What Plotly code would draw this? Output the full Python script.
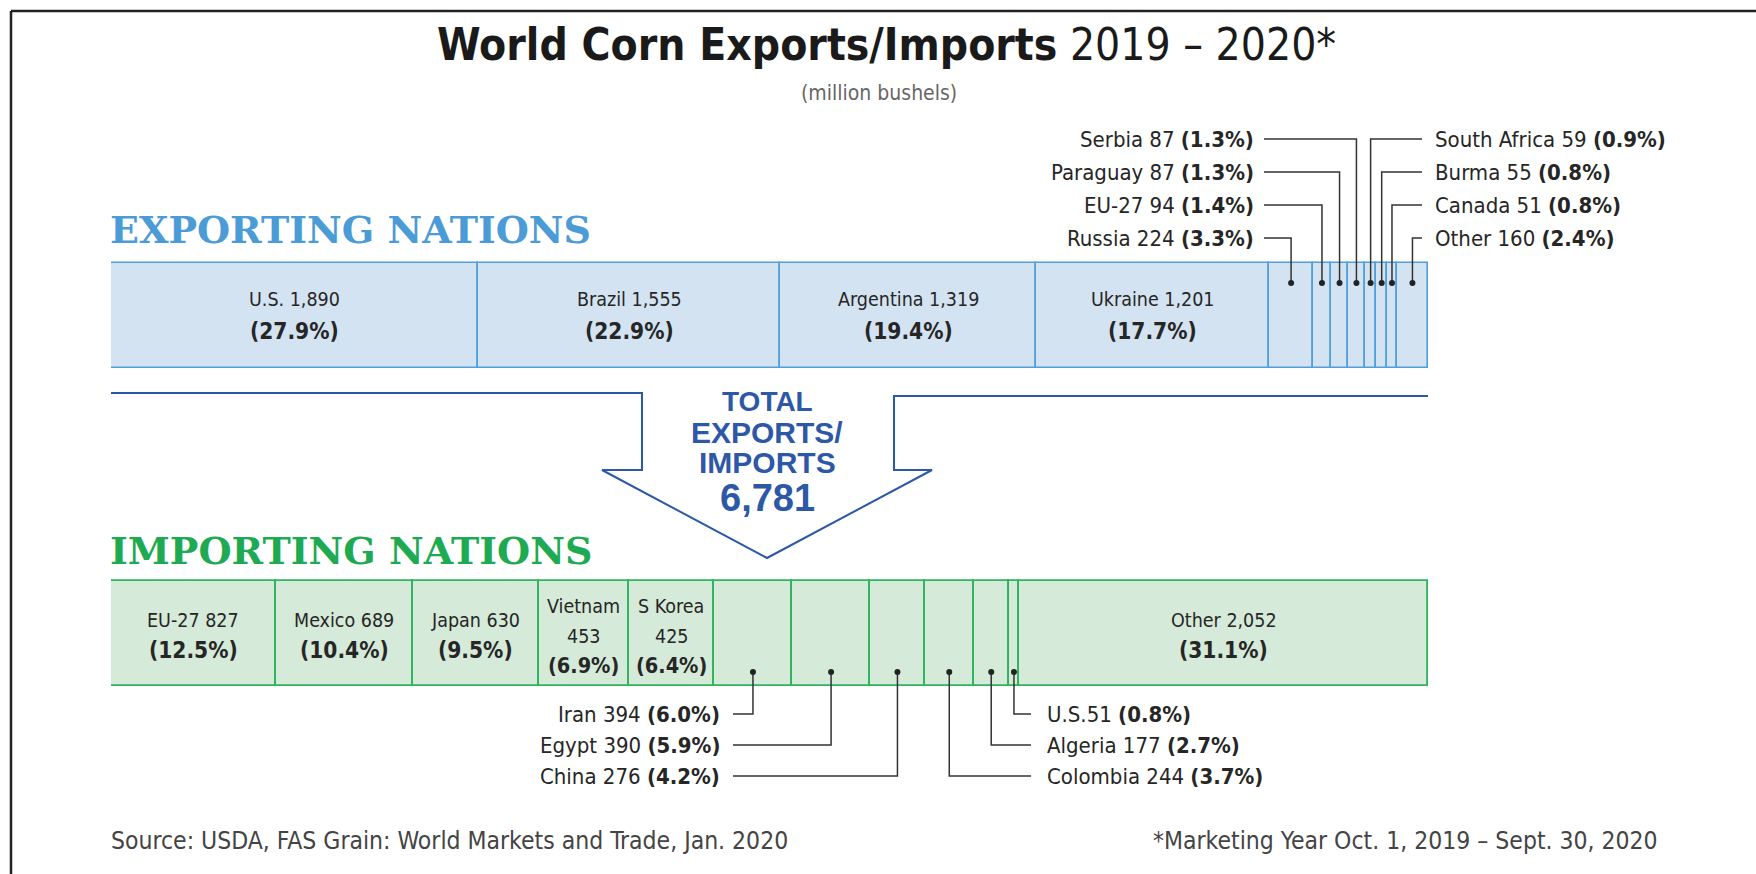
import plotly.graph_objects as go

# ---------------- data ----------------
exp_names = ["U.S.", "Brazil", "Argentina", "Ukraine", "Russia", "EU-27", "Paraguay",
             "Serbia", "South Africa", "Burma", "Canada", "Other"]
exp_vals = [1890, 1555, 1319, 1201, 224, 94, 87, 87, 59, 55, 51, 160]
exp_pct = ["27.9%", "22.9%", "19.4%", "17.7%", "3.3%", "1.4%", "1.3%", "1.3%",
           "0.9%", "0.8%", "0.8%", "2.4%"]

imp_names = ["EU-27", "Mexico", "Japan", "Vietnam", "S Korea", "Iran", "Egypt", "China",
             "Colombia", "Algeria", "U.S.", "Other"]
imp_vals = [827, 689, 630, 453, 425, 394, 390, 276, 244, 177, 51, 2052]
imp_pct = ["12.5%", "10.4%", "9.5%", "6.9%", "6.4%", "6.0%", "5.9%", "4.2%",
           "3.7%", "2.7%", "0.8%", "31.1%"]

exp_inside = ["U.S.", "Brazil", "Argentina", "Ukraine"]
exp_left_leaders = ["Serbia", "Paraguay", "EU-27", "Russia"]
exp_right_leaders = ["South Africa", "Burma", "Canada", "Other"]

imp_inside = ["EU-27", "Mexico", "Japan", "Vietnam", "S Korea", "Other"]
imp_stacked_labels = ["Vietnam", "S Korea"]
imp_left_leaders = ["Iran", "Egypt", "China"]
imp_right_leaders = ["U.S.", "Algeria", "Colombia"]

total_trade = "6,781"

# ---------------- layout constants (pixels) ----------------
W, H = 1756, 874
X0, X1 = 111, 1428
EXP_Y, IMP_Y, BAR_H = 315.5, 633.5, 105

NARROW = "DejaVu Sans Condensed, Liberation Sans Narrow, sans-serif"
WIDE = "Liberation Sans, Arial, sans-serif"
SLAB = "DejaVu Serif, serif"
TXT = "#262626"
BLUE_H = "#4b9bd6"
GREEN_H = "#1daa52"
NAVY = "#2d58a6"

exp_total = sum(exp_vals)
imp_total = sum(imp_vals)


def starts(vals):
    s, out = 0, []
    for v in vals:
        out.append(s)
        s += v
    return out


exp_base = starts(exp_vals)
imp_base = starts(imp_vals)


def fmt(v):
    return f"{v:,}"


def px2data(px, total):
    return (px - X0) / (X1 - X0) * total


fig = go.Figure()

# bars
fig.add_trace(go.Bar(
    x=exp_vals, base=exp_base, y=[EXP_Y] * len(exp_vals), width=BAR_H,
    orientation="h", xaxis="x", yaxis="y",
    marker=dict(color="#d4e3f2", line=dict(color="#4e9fda", width=1.6)),
    hoverinfo="skip"))
fig.add_trace(go.Bar(
    x=imp_vals, base=imp_base, y=[IMP_Y] * len(imp_vals), width=BAR_H,
    orientation="h", xaxis="x2", yaxis="y",
    marker=dict(color="#d5ead8", line=dict(color="#2fb45c", width=1.8)),
    hoverinfo="skip"))

ann = []
NAME_SZ, PCT_SZ = 19.5, 22.5

# inside labels exports
for n, v, p, b in zip(exp_names, exp_vals, exp_pct, exp_base):
    if n in exp_inside:
        cx = b + v / 2
        ann.append(dict(x=cx, y=299, xref="x", yref="y", text=f"{n} {fmt(v)}",
                        showarrow=False, font=dict(family=NARROW, size=NAME_SZ, color=TXT)))
        ann.append(dict(x=cx, y=331, xref="x", yref="y", text=f"<b>({p})</b>",
                        showarrow=False, font=dict(family=NARROW, size=PCT_SZ, color=TXT)))

# inside labels imports
for n, v, p, b in zip(imp_names, imp_vals, imp_pct, imp_base):
    if n in imp_inside:
        cx = b + v / 2
        if n in imp_stacked_labels:
            ann.append(dict(x=cx, y=606, xref="x2", yref="y", text=n,
                            showarrow=False, font=dict(family=NARROW, size=NAME_SZ, color=TXT)))
            ann.append(dict(x=cx, y=636, xref="x2", yref="y", text=fmt(v),
                            showarrow=False, font=dict(family=NARROW, size=NAME_SZ, color=TXT)))
            ann.append(dict(x=cx, y=665, xref="x2", yref="y", text=f"<b>({p})</b>",
                            showarrow=False, font=dict(family=NARROW, size=PCT_SZ - 1, color=TXT)))
        else:
            ann.append(dict(x=cx, y=620, xref="x2", yref="y", text=f"{n} {fmt(v)}",
                            showarrow=False, font=dict(family=NARROW, size=NAME_SZ, color=TXT)))
            ann.append(dict(x=cx, y=650, xref="x2", yref="y", text=f"<b>({p})</b>",
                            showarrow=False, font=dict(family=NARROW, size=PCT_SZ, color=TXT)))


def leader(names, vals, pcts, bases, total, axis, which, rows, dot_y, line_px, text_px, side):
    lx, ly, dx, dy = [], [], [], []
    for i, name in enumerate(which):
        k = names.index(name)
        cx = bases[k] + vals[k] / 2
        ry = rows[i]
        lx += [px2data(line_px, total), cx, cx, None]
        ly += [ry, ry, dot_y, None]
        dx.append(cx)
        dy.append(dot_y)
        sep = "" if (axis == "x2" and name == "U.S.") else " "
        ann.append(dict(x=text_px / W, y=ry, xref="paper", yref="y",
                        text=f"{name}{sep}{fmt(vals[k])} <b>({pcts[k]})</b>",
                        xanchor="right" if side == "left" else "left",
                        showarrow=False, font=dict(family=NARROW, size=22, color=TXT)))
    fig.add_trace(go.Scatter(x=lx, y=ly, xaxis=axis, yaxis="y", mode="lines",
                             line=dict(color="#333333", width=1.5), hoverinfo="skip"))
    fig.add_trace(go.Scatter(x=dx, y=dy, xaxis=axis, yaxis="y", mode="markers",
                             marker=dict(color="#222222", size=6), hoverinfo="skip"))


exp_rows = [139, 172, 205, 238]
imp_rows = [714, 745, 776]
leader(exp_names, exp_vals, exp_pct, exp_base, exp_total, "x", exp_left_leaders,
       exp_rows, 283, 1264, 1256, "left")
leader(exp_names, exp_vals, exp_pct, exp_base, exp_total, "x", exp_right_leaders,
       exp_rows, 283, 1422, 1433, "right")
leader(imp_names, imp_vals, imp_pct, imp_base, imp_total, "x2", imp_left_leaders,
       imp_rows, 672, 733, 722, "left")
leader(imp_names, imp_vals, imp_pct, imp_base, imp_total, "x2", imp_right_leaders,
       imp_rows, 672, 1031, 1045, "right")

# titles and text
ann += [
    dict(x=887 / W, y=44, xref="paper", yref="y", showarrow=False,
         text="<b>World Corn Exports/Imports</b> 2019 – 2020*",
         font=dict(family=NARROW, size=44, color="#1a1a1a")),
    dict(x=879 / W, y=93, xref="paper", yref="y", showarrow=False,
         text="(million bushels)", font=dict(family=NARROW, size=21, color="#666666")),
    dict(x=108 / W, y=229, xref="paper", yref="y", showarrow=False, xanchor="left",
         text="<b>EXPORTING NATIONS</b>", font=dict(family=SLAB, size=38, color=BLUE_H)),
    dict(x=108 / W, y=550, xref="paper", yref="y", showarrow=False, xanchor="left",
         text="<b>IMPORTING NATIONS</b>", font=dict(family=SLAB, size=38, color=GREEN_H)),
    dict(x=767 / W, y=401, xref="paper", yref="y", showarrow=False,
         text="<b>TOTAL</b>", font=dict(family=WIDE, size=28, color=NAVY)),
    dict(x=767 / W, y=432, xref="paper", yref="y", showarrow=False,
         text="<b>EXPORTS/</b>", font=dict(family=WIDE, size=30, color=NAVY)),
    dict(x=767 / W, y=462, xref="paper", yref="y", showarrow=False,
         text="<b>IMPORTS</b>", font=dict(family=WIDE, size=30, color=NAVY)),
    dict(x=767 / W, y=498, xref="paper", yref="y", showarrow=False,
         text=f"<b>{total_trade}</b>", font=dict(family=WIDE, size=38, color=NAVY)),
    dict(x=109 / W, y=840, xref="paper", yref="y", showarrow=False, xanchor="left",
         text="Source: USDA, FAS Grain: World Markets and Trade, Jan. 2020",
         font=dict(family=NARROW, size=24.5, color="#444444")),
    dict(x=1660 / W, y=840, xref="paper", yref="y", showarrow=False, xanchor="right",
         text="*Marketing Year Oct. 1, 2019 – Sept. 30, 2020",
         font=dict(family=NARROW, size=24.5, color="#444444")),
]


def P(x):
    return x / W


arrow_path = (f"M {P(111)},393 L {P(642)},393 L {P(642)},470 L {P(602)},470 "
              f"L {P(767)},558 L {P(932)},470 L {P(894)},470 L {P(894)},396 L {P(1428)},396")
shapes = [
    dict(type="path", path=arrow_path, xref="paper", yref="y",
         line=dict(color=NAVY, width=2), fillcolor="rgba(0,0,0,0)"),
    dict(type="line", xref="paper", yref="y", x0=P(11), x1=1, y0=11, y1=11,
         line=dict(color="#222222", width=2.5)),
    dict(type="line", xref="paper", yref="y", x0=P(11), x1=P(11), y0=11, y1=H,
         line=dict(color="#222222", width=2.5)),
]

fig.update_layout(
    width=W, height=H, margin=dict(l=0, r=0, t=0, b=0),
    paper_bgcolor="white", plot_bgcolor="rgba(0,0,0,0)",
    showlegend=False, barmode="overlay", bargap=0,
    xaxis=dict(domain=[X0 / W, X1 / W], range=[0, exp_total], visible=False, fixedrange=True),
    xaxis2=dict(domain=[X0 / W, X1 / W], range=[0, imp_total], visible=False,
                overlaying="x", anchor="y", fixedrange=True),
    yaxis=dict(domain=[0, 1], range=[H, 0], visible=False, fixedrange=True),
    annotations=ann, shapes=shapes,
)

fig.write_html("out.html")
